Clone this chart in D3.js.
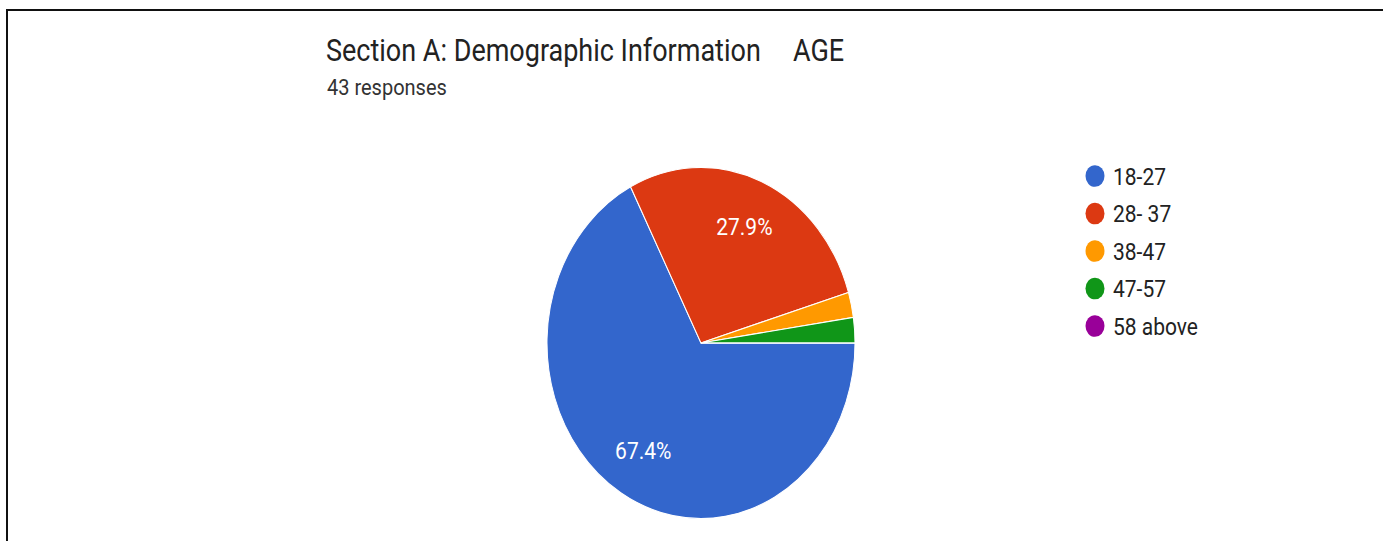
<!DOCTYPE html>
<html>
<head>
<meta charset="utf-8">
<script src="https://cdn.jsdelivr.net/npm/d3@7"></script>
<style>
  html, body { margin: 0; padding: 0; background: #fff; }
  svg { display: block; }
  text { font-family: Roboto, "Noto Sans", Arial, sans-serif; }
</style>
</head>
<body>
<svg id="chart" width="1383" height="541"></svg>
<script>
// Age groups of respondents and their response counts (43 in total)
const categories = ["18-27", "28- 37", "38-47", "47-57", "58 above"];
const counts = [29, 12, 1, 1, 0];
const colors = ["#3366cc", "#dc3912", "#ff9900", "#109618", "#990099"];
const titleText = "Section A: Demographic Information";
const titleTag = "AGE";
const subtitleText = "43 responses";

const W = 1383, H = 541;
const SY = 1.14;               // vertical stretch of the whole card
const svg = d3.select("#chart");

// card frame: top and left rules
svg.append("line").attr("x1", 6).attr("y1", 10).attr("x2", W).attr("y2", 10)
  .attr("stroke", "#111").attr("stroke-width", 2);
svg.append("line").attr("x1", 7).attr("y1", 10).attr("x2", 7).attr("y2", H)
  .attr("stroke", "#111").attr("stroke-width", 2);

const g = svg.append("g").attr("transform", `scale(1,${SY})`);
const y = v => v / SY;

// heading
const title = g.append("text").attr("x", 326).attr("y", y(61))
  .attr("font-size", 27).attr("fill", "#222");
title.append("tspan").text(titleText);
title.append("tspan").attr("x", 793).text(titleTag);
g.append("text").attr("x", 327).attr("y", y(95))
  .attr("font-size", 20).attr("fill", "#333").text(subtitleText);

// pie
const total = d3.sum(counts);
const cx = 701, cy = y(343), R = 154;
const pie = d3.pie().sort(null).value(d => d)
  .startAngle(Math.PI / 2).endAngle(Math.PI / 2 + 2 * Math.PI);
const arcs = pie(counts);
const arc = d3.arc().innerRadius(0).outerRadius(R);
const labelArc = d3.arc().innerRadius(R * 0.72).outerRadius(R * 0.72);

const pg = g.append("g").attr("transform", `translate(${cx},${cy})`);
pg.selectAll("path").data(arcs).join("path")
  .attr("d", arc)
  .attr("fill", (d, i) => colors[i])
  .attr("stroke", "#fff").attr("stroke-width", 1);

pg.selectAll("text.pct").data(arcs.filter(d => d.value / total > 0.05)).join("text")
  .attr("class", "pct")
  .attr("transform", d => `translate(${labelArc.centroid(d)})`)
  .attr("text-anchor", "middle").attr("dominant-baseline", "central")
  .attr("font-size", 21).attr("fill", "#fff")
  .text(d => (d.value / total * 100).toFixed(1) + "%");

// legend
const legendY = d3.scalePoint().domain(categories).range([y(176), y(326)]);
const lg = g.append("g");
const items = lg.selectAll("g").data(categories).join("g")
  .attr("transform", d => `translate(1095,${legendY(d)})`);
items.append("circle").attr("r", 9.5).attr("fill", (d, i) => colors[i]);
items.append("text").attr("x", 18).attr("dominant-baseline", "central")
  .attr("font-size", 21).attr("fill", "#222").text(d => d);
</script>
</body>
</html>
